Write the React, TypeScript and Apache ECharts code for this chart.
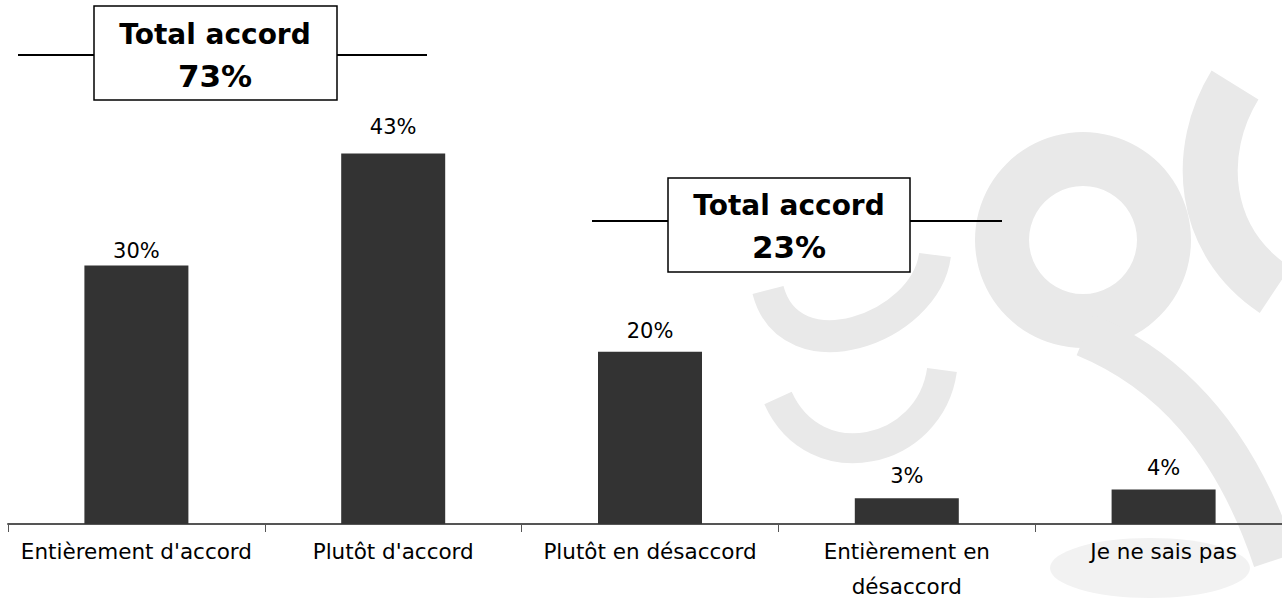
import React, { useEffect, useRef } from "react";
import * as echarts from "echarts";

const categories = [
  "Entièrement d'accord",
  "Plutôt d'accord",
  "Plutôt en désaccord",
  "Entièrement en\ndésaccord",
  "Je ne sais pas",
];
const values = [30, 43, 20, 3, 4];
const totalTitles = ["Total accord", "Total accord"];
const totalValues = ["73%", "23%"];

// label gap above each bar (style only)
const labelGaps = [4, 16, 10, 12, 11];

export default function App() {
  const ref = useRef<HTMLDivElement>(null);
  useEffect(() => {
    document.body.style.margin = "0";
    document.body.style.overflow = "hidden";
    const chart = echarts.init(ref.current!, null, { renderer: "svg" });
    const wm = "#e9e9e9";
    const font = "'DejaVu Sans', Verdana, sans-serif";
    const boxText = (i: number) => ({
      text: `{t|${totalTitles[i]}}\n{v|${totalValues[i]}}`,
      fill: "#000",
      align: "center",
      verticalAlign: "middle",
      rich: {
        t: { font: `bold 28px ${font}`, lineHeight: 41, fill: "#000" },
        v: { font: `bold 31px ${font}`, lineHeight: 41, fill: "#000" },
      },
    });
    chart.setOption({
      animation: false,
      backgroundColor: "#ffffff",
      grid: { left: 8, top: 7, width: 1284, height: 518, containLabel: false },
      xAxis: {
        type: "category",
        data: categories,
        axisLine: { show: true, lineStyle: { color: "#555555", width: 2 } },
        axisTick: { show: true, length: 8, lineStyle: { color: "#555555", width: 1 } },
        axisLabel: {
          color: "#000000",
          fontFamily: font,
          fontSize: 21.5,
          lineHeight: 35,
          margin: 10,
          interval: 0,
        },
      },
      yAxis: {
        type: "value",
        min: 0,
        max: 60,
        show: false,
        splitLine: { show: false },
      },
      graphic: [
        // watermark (faint logo)
        { type: "ring", z: 0, shape: { cx: 1083, cy: 240, r: 108, r0: 54 }, style: { fill: wm } },
        { type: "bezierCurve", z: 0, shape: { x1: 1085, y1: 335, cpx1: 1170, cpy1: 370, cpx2: 1235, cpy2: 440, x2: 1275, y2: 560 }, style: { stroke: wm, lineWidth: 44, fill: "none" } },
        { type: "bezierCurve", z: 0, shape: { x1: 1235, y1: 85, cpx1: 1195, cpy1: 150, cpx2: 1200, cpy2: 240, x2: 1275, y2: 290 }, style: { stroke: wm, lineWidth: 55, fill: "none" } },
        { type: "bezierCurve", z: 0, shape: { x1: 768, y1: 290, cpx1: 790, cpy1: 375, cpx2: 925, cpy2: 330, x2: 935, y2: 255 }, style: { stroke: wm, lineWidth: 32, fill: "none" } },
        { type: "bezierCurve", z: 0, shape: { x1: 778, y1: 398, cpx1: 815, cpy1: 480, cpx2: 930, cpy2: 455, x2: 942, y2: 370 }, style: { stroke: wm, lineWidth: 30, fill: "none" } },
        { type: "ellipse", z: 0, shape: { cx: 1150, cy: 568, rx: 100, ry: 30 }, style: { fill: "#f2f2f2" } },
        // annotation 1
        { type: "line", z: 10, shape: { x1: 18, y1: 55, x2: 94, y2: 55 }, style: { stroke: "#000", lineWidth: 2 } },
        { type: "line", z: 10, shape: { x1: 337, y1: 55, x2: 427, y2: 55 }, style: { stroke: "#000", lineWidth: 2 } },
        { type: "rect", z: 10, shape: { x: 94, y: 6, width: 243, height: 94 }, style: { fill: "#fff", stroke: "#000", lineWidth: 1.5 } },
        { type: "text", z: 11, x: 215, y: 55, style: boxText(0) },
        // annotation 2
        { type: "line", z: 10, shape: { x1: 592, y1: 221, x2: 668, y2: 221 }, style: { stroke: "#000", lineWidth: 2 } },
        { type: "line", z: 10, shape: { x1: 910, y1: 221, x2: 1002, y2: 221 }, style: { stroke: "#000", lineWidth: 2 } },
        { type: "rect", z: 10, shape: { x: 668, y: 178, width: 242, height: 94 }, style: { fill: "#fff", stroke: "#000", lineWidth: 1.5 } },
        { type: "text", z: 11, x: 789, y: 226, style: boxText(1) },
      ],
      series: [
        {
          type: "bar",
          data: values.map((v, i) => ({ value: v, label: { distance: labelGaps[i] } })),
          barWidth: 104,
          z: 5,
          itemStyle: { color: "#333333" },
          label: {
            show: true,
            position: "top",
            formatter: "{c}%",
            color: "#000",
            fontFamily: font,
            fontSize: 21,
          },
        },
      ],
    });
    return () => chart.dispose();
  }, []);
  return <div ref={ref} style={{ width: 1300, height: 604 }} />;
}
